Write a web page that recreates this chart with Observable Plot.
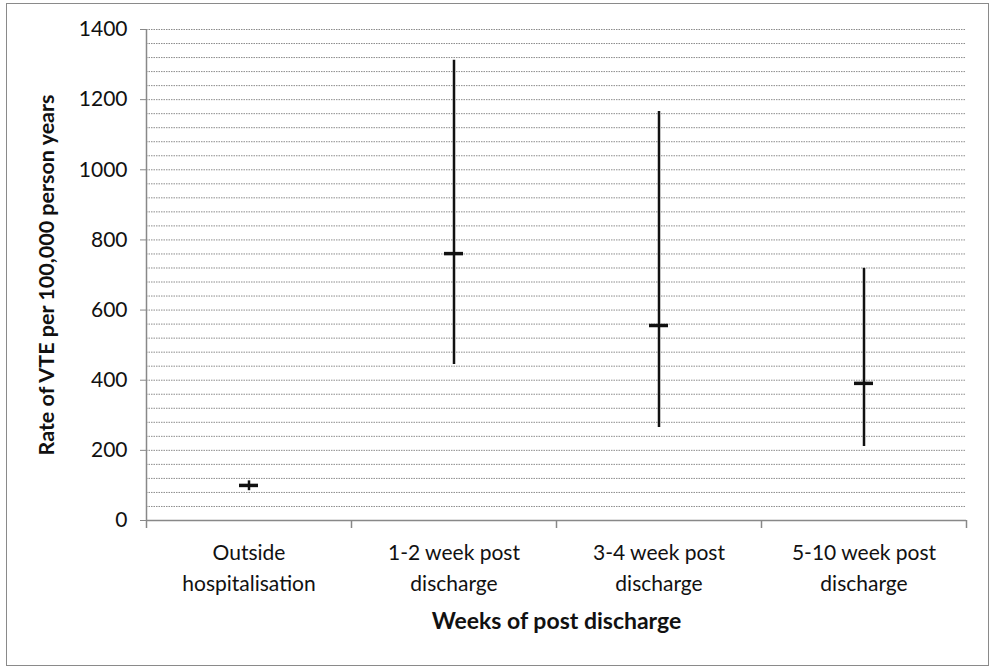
<!DOCTYPE html>
<html><head><meta charset="utf-8">
<script src="https://cdn.jsdelivr.net/npm/d3@7"></script>
<script src="https://cdn.jsdelivr.net/npm/@observablehq/plot@0.6"></script>
<style>
body{margin:0;background:#fff;}
#wrap{position:relative;width:994px;height:668px;}
#wrap svg{position:absolute;left:0;top:0;}
#border{position:absolute;left:6px;top:3px;width:983px;height:663px;border:1.5px solid #8a8a8a;box-sizing:border-box;pointer-events:none;}
</style></head><body><div id="wrap"></div>
<script>
const categories = ["Outside hospitalisation", "1-2 week post discharge", "3-4 week post discharge", "5-10 week post discharge"];
const tickLabels = ["Outside\nhospitalisation", "1-2 week post\ndischarge", "3-4 week post\ndischarge", "5-10 week post\ndischarge"];
const rates = [100, 761, 556, 391];
const lower = [85, 445, 265, 211];
const upper = [113, 1312, 1166, 719];
const yTicks = [0, 200, 400, 600, 800, 1000, 1200, 1400];
const gridValues = d3.range(0, 1401, 40);
const yTitle = "Rate of VTE per 100,000 person years";
const xTitle = "Weeks of post discharge";

const data = categories.map((c, i) => ({cat: c, rate: rates[i], lo: lower[i], hi: upper[i]}));
const labelOf = new Map(categories.map((c, i) => [c, tickLabels[i]]));

const chart = Plot.plot({
  width: 994,
  height: 668,
  marginLeft: 146,
  marginRight: 28,
  marginTop: 29,
  marginBottom: 148,
  style: {fontFamily: "Lato, 'Open Sans', sans-serif", fontSize: "21px", color: "#111", background: "transparent"},
  x: {type: "band", domain: categories, padding: 0},
  y: {domain: [0, 1400]},
  marks: [
    Plot.ruleY(gridValues, {stroke: "#8c8c8c", strokeWidth: 1, strokeDasharray: "1.5,1"}),
    Plot.ruleY([0], {stroke: "#888", strokeWidth: 1.5}),
    Plot.ruleX([categories[0]], {x: d => d, dx: -102.5, y1: 0, y2: 1400, stroke: "#888", strokeWidth: 1.5}),
    Plot.ruleX(categories, {x: d => d, dx: -102.5, y1: 0, y2: 0, insetBottom: -8, stroke: "#888", strokeWidth: 1.5}),
    Plot.ruleX([categories[categories.length - 1]], {x: d => d, dx: 102.5, y1: 0, y2: 0, insetBottom: -8, stroke: "#888", strokeWidth: 1.5}),
    Plot.axisY({ticks: yTicks, tickSize: 6, tickPadding: 13, stroke: "#888", label: null, fontSize: 21, tickFormat: d3.format("d")}),
    Plot.axisX({tickSize: 0, tickPadding: 17, tickFormat: d => labelOf.get(d), lineHeight: 1.5, label: null, fontSize: 21}),
    Plot.ruleX(data, {x: "cat", y1: "lo", y2: "hi", stroke: "#111", strokeWidth: 2.5}),
    Plot.tickY(data, {x: "cat", y: "rate", stroke: "#111", strokeWidth: 3.5, insetLeft: 93, insetRight: 93}),
    Plot.text([yTitle], {text: d => d, frameAnchor: "left", textAnchor: "middle", dx: -99, rotate: -90, fontWeight: "bold", fontSize: 21.5}),
    Plot.text([xTitle], {text: d => d, frameAnchor: "bottom", dy: 108, fontWeight: "bold", fontSize: 23})
  ]
});
const wrap = document.getElementById("wrap");
wrap.appendChild(chart);
const b = document.createElement("div");
b.id = "border";
wrap.appendChild(b);
</script>
</body></html>
